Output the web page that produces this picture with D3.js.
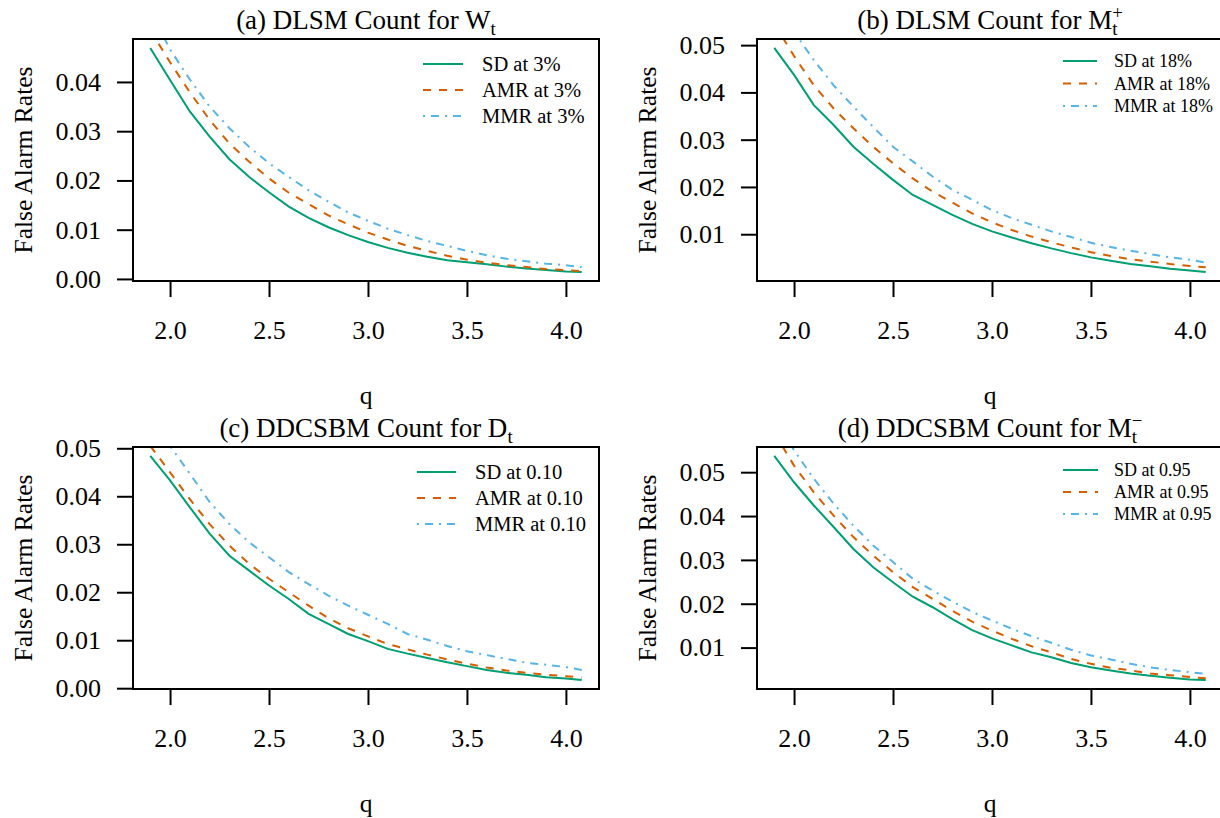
<!DOCTYPE html>
<html>
<head>
<meta charset="utf-8">
<script src="https://cdn.jsdelivr.net/npm/d3@7"></script>
<style>
  html, body { margin: 0; padding: 0; background: #fff; }
  svg { display: block; }
  text { font-family: "Liberation Serif", "Times New Roman", serif; fill: #000; }
</style>
</head>
<body>
<svg id="chart" width="1220" height="818"></svg>
<script>
// ---------------- DATA ----------------
const q = [1.90, 2.00, 2.10, 2.20, 2.30, 2.40, 2.50, 2.60, 2.70, 2.80, 2.90, 3.00,
           3.10, 3.20, 3.30, 3.40, 3.50, 3.60, 3.70, 3.80, 3.90, 4.00, 4.08];

// (a) DLSM Count for W_t
const sdA  = [0.0469, 0.0404, 0.0340, 0.0289, 0.0243, 0.0207, 0.0176, 0.0147, 0.0124, 0.0105, 0.0089, 0.0075,
              0.0063, 0.0053, 0.0045, 0.0038, 0.0034, 0.0030, 0.0025, 0.0021, 0.0018, 0.0015, 0.0014];
const amrA = [0.0505, 0.0440, 0.0379, 0.0323, 0.0275, 0.0238, 0.0204, 0.0175, 0.0152, 0.0129, 0.0111, 0.0094,
              0.0080, 0.0067, 0.0057, 0.0047, 0.0039, 0.0033, 0.0028, 0.0024, 0.0020, 0.0018, 0.0016];
const mmrA = [0.0545, 0.0466, 0.0405, 0.0350, 0.0306, 0.0268, 0.0235, 0.0207, 0.0180, 0.0157, 0.0135, 0.0118,
              0.0102, 0.0089, 0.0077, 0.0067, 0.0057, 0.0048, 0.0041, 0.0036, 0.0031, 0.0028, 0.0024];

// (b) DLSM Count for M_t^+
const sdB  = [0.0494, 0.0437, 0.0373, 0.0331, 0.0285, 0.0249, 0.0215, 0.0183, 0.0162, 0.0141, 0.0122, 0.0106,
              0.0093, 0.0081, 0.0070, 0.0060, 0.0051, 0.0044, 0.0037, 0.0032, 0.0027, 0.0023, 0.0020];
const amrB = [0.0545, 0.0477, 0.0415, 0.0366, 0.0324, 0.0285, 0.0250, 0.0218, 0.0190, 0.0167, 0.0144, 0.0125,
              0.0109, 0.0095, 0.0083, 0.0072, 0.0062, 0.0054, 0.0047, 0.0042, 0.0037, 0.0033, 0.0030];
const mmrB = [0.0585, 0.0528, 0.0468, 0.0415, 0.0370, 0.0327, 0.0285, 0.0254, 0.0222, 0.0194, 0.0173, 0.0151,
              0.0134, 0.0120, 0.0106, 0.0094, 0.0082, 0.0073, 0.0065, 0.0058, 0.0051, 0.0046, 0.0040];

// (c) DDCSBM Count for D_t
const sdC  = [0.0484, 0.0433, 0.0377, 0.0322, 0.0276, 0.0245, 0.0214, 0.0186, 0.0155, 0.0134, 0.0113, 0.0098,
              0.0082, 0.0072, 0.0063, 0.0054, 0.0046, 0.0038, 0.0032, 0.0028, 0.0023, 0.0020, 0.0017];
const amrC = [0.0505, 0.0450, 0.0394, 0.0342, 0.0297, 0.0259, 0.0228, 0.0200, 0.0172, 0.0146, 0.0125, 0.0108,
              0.0092, 0.0081, 0.0070, 0.0060, 0.0051, 0.0043, 0.0037, 0.0032, 0.0028, 0.0025, 0.0022];
const mmrC = [0.0565, 0.0505, 0.0447, 0.0388, 0.0342, 0.0304, 0.0273, 0.0242, 0.0217, 0.0193, 0.0172, 0.0153,
              0.0134, 0.0113, 0.0101, 0.0088, 0.0077, 0.0069, 0.0061, 0.0053, 0.0049, 0.0044, 0.0038];

// (d) DDCSBM Count for M_t^-
const sdD  = [0.0537, 0.0477, 0.0424, 0.0375, 0.0325, 0.0283, 0.0249, 0.0216, 0.0192, 0.0165, 0.0140, 0.0121,
              0.0105, 0.0089, 0.0078, 0.0065, 0.0055, 0.0048, 0.0041, 0.0036, 0.0031, 0.0027, 0.0026];
const amrD = [0.0590, 0.0515, 0.0454, 0.0401, 0.0352, 0.0310, 0.0272, 0.0238, 0.0211, 0.0184, 0.0159, 0.0139,
              0.0120, 0.0103, 0.0089, 0.0074, 0.0063, 0.0054, 0.0048, 0.0041, 0.0037, 0.0033, 0.0030];
const mmrD = [0.0625, 0.0550, 0.0485, 0.0428, 0.0378, 0.0333, 0.0295, 0.0257, 0.0230, 0.0205, 0.0181, 0.0162,
              0.0143, 0.0126, 0.0111, 0.0095, 0.0082, 0.0073, 0.0063, 0.0055, 0.0049, 0.0044, 0.0040];

// Text
const titleMain = ["(a) DLSM Count for W", "(b) DLSM Count for M", "(c) DDCSBM Count for D", "(d) DDCSBM Count for M"];
const titleSub  = ["t", "t", "t", "t"];
const titleSup  = ["", "+", "", "\u2212"];
const legendA = ["SD at 3%", "AMR at 3%", "MMR at 3%"];
const legendB = ["SD at 18%", "AMR at 18%", "MMR at 18%"];
const legendC = ["SD at 0.10", "AMR at 0.10", "MMR at 0.10"];
const legendD = ["SD at 0.95", "AMR at 0.95", "MMR at 0.95"];
const xTicks = [2.0, 2.5, 3.0, 3.5, 4.0];
const yTicksA = [0.00, 0.01, 0.02, 0.03, 0.04];
const yTicksB = [0.01, 0.02, 0.03, 0.04, 0.05];
const yTicksC = [0.00, 0.01, 0.02, 0.03, 0.04, 0.05];
const yTicksD = [0.01, 0.02, 0.03, 0.04, 0.05];
const xLabel = "q";
const yLabel = "False Alarm Rates";

// ---------------- STYLE / LAYOUT ----------------
const colors = ["#009E73", "#D55E00", "#56B4E9"];
const dashes = [null, "8,8", "2,6,8,6"];

const panels = [
  { box: [133, 599, 39, 281], series: [sdA, amrA, mmrA], legend: legendA, yTicks: yTicksA,
    leg: { x1: 423, x2: 463, tx: 482, y0: 64, step: 26, fs: 20.5 } },
  { box: [757, 1223, 39, 281], series: [sdB, amrB, mmrB], legend: legendB, yTicks: yTicksB,
    leg: { x1: 1063, x2: 1097, tx: 1114, y0: 61, step: 22.5, fs: 18 } },
  { box: [133, 599, 447, 689], series: [sdC, amrC, mmrC], legend: legendC, yTicks: yTicksC,
    leg: { x1: 417, x2: 456, tx: 475, y0: 472, step: 26, fs: 20.5 } },
  { box: [757, 1223, 447, 689], series: [sdD, amrD, mmrD], legend: legendD, yTicks: yTicksD,
    leg: { x1: 1063, x2: 1098, tx: 1114, y0: 470, step: 22, fs: 18 } }
];

const tickFont = 26, labFont = 25.5, titleFont = 27;

const svg = d3.select("#chart");

function padded(ext) {
  const r = ext[1] - ext[0];
  return [ext[0] - 0.04 * r, ext[1] + 0.04 * r];
}

panels.forEach((p, i) => {
  const [L, R, T, B] = p.box;
  const x = d3.scaleLinear().domain(padded(d3.extent(q))).range([L, R]);
  const y = d3.scaleLinear().domain(padded(d3.extent(p.series[0]))).range([B, T]);
  const g = svg.append("g");

  const clipId = "clip" + i;
  svg.append("clipPath").attr("id", clipId)
    .append("rect").attr("x", L).attr("y", T).attr("width", R - L).attr("height", B - T);

  // lines
  const line = d3.line().x((d, k) => x(q[k])).y(d => y(d));
  const lg = g.append("g").attr("clip-path", `url(#${clipId})`);
  p.series.forEach((s, k) => {
    lg.append("path").datum(s)
      .attr("d", line)
      .attr("fill", "none")
      .attr("stroke", colors[k])
      .attr("stroke-width", 2)
      .attr("stroke-dasharray", dashes[k]);
  });

  // box
  g.append("rect").attr("x", L).attr("y", T).attr("width", R - L).attr("height", B - T)
    .attr("fill", "none").attr("stroke", "#000").attr("stroke-width", 2);

  // y axis
  const yAxis = d3.axisLeft(y).tickValues(p.yTicks).tickSize(16).tickPadding(16)
    .tickFormat(d3.format(".2f"));
  const ya = g.append("g").attr("transform", `translate(${L},0)`).call(yAxis);
  ya.select(".domain").remove();
  ya.selectAll(".tick line").attr("stroke", "#000").attr("stroke-width", 2);
  ya.selectAll(".tick text").attr("font-size", tickFont).attr("fill", "#000");

  // x axis
  const xAxis = d3.axisBottom(x).tickValues(xTicks).tickSize(16).tickPadding(24)
    .tickFormat(d3.format(".1f"));
  const xa = g.append("g").attr("transform", `translate(0,${B})`).call(xAxis);
  xa.select(".domain").remove();
  xa.selectAll(".tick line").attr("stroke", "#000").attr("stroke-width", 2);
  xa.selectAll(".tick text").attr("font-size", tickFont).attr("fill", "#000");

  // axis labels
  g.append("text").attr("x", (L + R) / 2).attr("y", B + 123)
    .attr("text-anchor", "middle").attr("font-size", labFont).text(xLabel);
  g.append("text")
    .attr("transform", `translate(${L - 101},${(T + B) / 2}) rotate(-90)`)
    .attr("text-anchor", "middle").attr("font-size", labFont).text(yLabel);

  // title
  const t = g.append("text").attr("x", (L + R) / 2).attr("y", T - 10)
    .attr("text-anchor", "middle").attr("font-size", titleFont);
  t.append("tspan").text(titleMain[i]);
  t.append("tspan").attr("font-size", titleFont * 0.7).attr("dy", 6).text(titleSub[i]);
  if (titleSup[i]) {
    t.append("tspan").attr("font-size", titleFont * 0.7)
      .attr("dx", -titleFont * 0.7 * 0.278).attr("dy", -16).text(titleSup[i]);
  }

  // legend
  const lgd = g.append("g");
  p.legend.forEach((lab, k) => {
    const yy = p.leg.y0 + k * p.leg.step;
    lgd.append("line").attr("x1", p.leg.x1).attr("x2", p.leg.x2).attr("y1", yy).attr("y2", yy)
      .attr("stroke", colors[k]).attr("stroke-width", 2).attr("stroke-dasharray", dashes[k]);
    lgd.append("text").attr("x", p.leg.tx).attr("y", yy).attr("dy", "0.34em")
      .attr("font-size", p.leg.fs).text(lab);
  });
});
</script>
</body>
</html>
